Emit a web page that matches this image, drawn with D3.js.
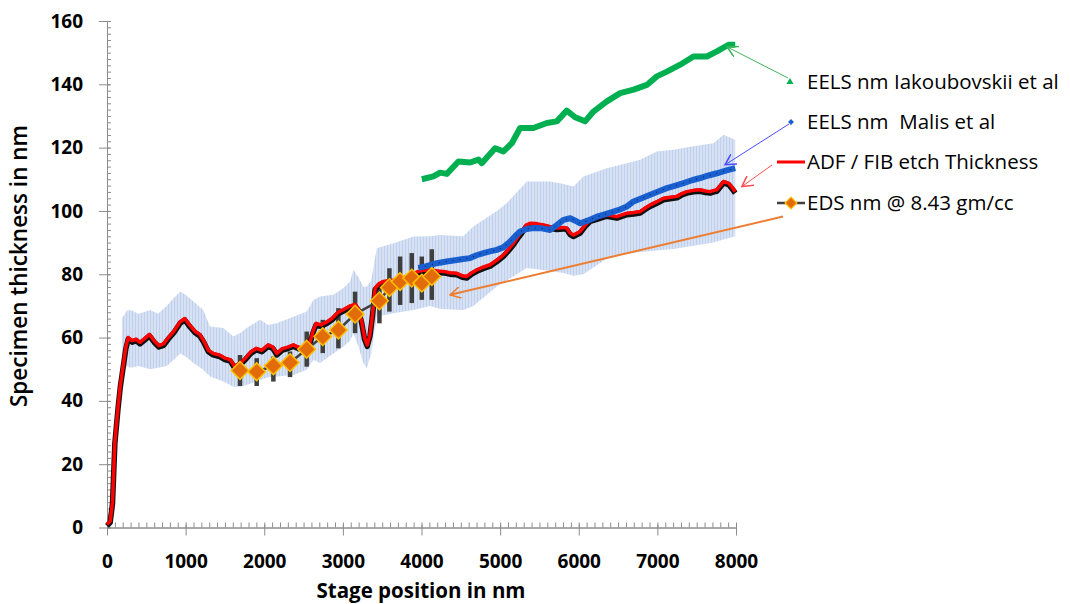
<!DOCTYPE html>
<html>
<head>
<meta charset="utf-8">
<script src="https://cdn.jsdelivr.net/npm/d3@7"></script>
<style>
  body { margin: 0; background: #fff; }
  svg { display: block; }
  .tick text { font-family: "Open Sans", sans-serif; font-weight: 700; font-size: 19px; fill: #000; }
  .legend text { font-family: "Open Sans", sans-serif; font-size: 20.5px; fill: #000; }
</style>
</head>
<body>
<svg width="1070" height="604"></svg>
<script>
// ADF / FIB etch thickness (red, with black raw trace underneath)
var adfX = [0, 40, 70, 100, 140, 170, 205, 240, 270, 320, 370, 420, 470, 540, 600, 660, 720, 780, 850, 930, 990,
  1050, 1120, 1180, 1230, 1290, 1350, 1430, 1500, 1570, 1620, 1700, 1760, 1830, 1900, 1970, 2050, 2110, 2160,
  2230, 2300, 2370, 2430, 2500, 2570, 2620, 2660, 2720, 2800, 2860, 2940, 3020, 3090, 3155, 3200, 3240, 3275,
  3310, 3345, 3375, 3410, 3460, 3512, 3600, 3686, 3780, 3880, 3961, 4040, 4109, 4200, 4279, 4360, 4449, 4520,
  4576, 4640, 4704, 4790, 4873, 4960, 5042, 5110, 5170, 5230, 5276, 5330, 5382, 5460, 5551, 5640, 5721, 5800,
  5848, 5890, 5933, 5980, 6018, 6080, 6145, 6250, 6357, 6485, 6612, 6700, 6781, 6850, 6908, 7000, 7078, 7160,
  7248, 7310, 7375, 7460, 7545, 7610, 7672, 7720, 7757, 7800, 7841, 7905, 7950, 7990];
var adfY = [1, 2, 8, 27, 38, 45, 51, 57, 60, 59, 59.5, 58.5, 59.5, 61, 59, 57.5, 58, 60, 62, 65, 66,
  64, 62, 61, 59, 56, 55, 54.5, 53.5, 53, 51, 52, 53.5, 55.5, 56.6, 56, 57.7, 57, 55,
  56.5, 57, 57.7, 57, 56.6, 57.5, 62, 64.5, 64, 65, 66, 68, 69, 70, 70.5, 69, 65, 60,
  57.7, 61, 67, 75.6, 77, 77.7, 78, 78.2, 79, 80, 80.9, 81.3, 81.4, 81, 80.9, 80.5, 80.3, 79.5,
  79.3, 80.5, 81.4, 82.3, 83, 84.5, 86.1, 88, 89.8, 92, 93.5, 95.5, 96.1, 96, 95.6, 95, 94.6, 94.8,
  94.6, 93, 92.4, 93, 93.5, 95.5, 97.2, 98, 98.8, 98.2, 99.3, 99.5, 99.8, 101, 101.9, 103, 104, 104.3,
  104.6, 105.5, 106.1, 106.5, 106.7, 106.3, 106.1, 106.5, 106.7, 108, 109.3, 108.8, 107.5, 106.1];

// error band of the ADF trace
var bandX  = [190, 250, 300, 400, 550, 650, 760, 850, 930, 1000, 1100, 1225, 1310, 1480, 1607, 1700, 1777, 1947,
  2050, 2159, 2371, 2540, 2625, 2710, 2880, 3000, 3092, 3134, 3200, 3260, 3304, 3360, 3431, 3643, 3897, 4109,
  4237, 4530, 4660, 4958, 5085, 5340, 5636, 5806, 5933, 6060, 6357, 6612, 6781, 6993, 7205, 7459, 7714, 7841, 7990];
var bandLo = [50, 51, 50.5, 51, 50, 50.5, 51, 53, 55, 54, 52, 49.8, 47.7, 46.1, 44.5, 44.5, 45, 46.6,
  47.5, 47.7, 48.2, 49.8, 53, 52, 55, 57, 59, 61.4, 57, 52, 50.3, 55, 66.6, 67.7, 68.7, 70,
  69, 68.7, 70, 76.1, 78, 82, 81, 80.4, 79.5, 80, 85, 86.5, 87, 87.5, 88, 89, 90, 91, 92];
var bandHi = [66, 68.5, 68.7, 67.5, 68.7, 67.5, 70, 72.5, 74.5, 73.5, 71.4, 68.7, 63.5, 63, 60.3, 61.5, 63, 65.6,
  64, 64.5, 66.6, 68.2, 71.9, 73, 73.5, 75.5, 77.7, 81.4, 79, 76, 76.1, 78, 88.2, 89.8, 91.9, 92,
  92.4, 92, 95.1, 100, 102.5, 109.3, 109.3, 108.5, 107.7, 110.9, 113.5, 115.1, 116.2, 118.8, 119.3, 120.4, 121.4, 124.1, 122.5];

// EELS Malis et al (blue)
var malisX = [3960, 4050, 4194, 4320, 4449, 4530, 4618, 4700, 4788, 4870, 4958, 5040, 5127, 5190, 5254, 5340,
  5424, 5530, 5636, 5720, 5806, 5891, 5950, 6018, 6120, 6230, 6340, 6442, 6530, 6612, 6697, 6800, 6908, 7020,
  7121, 7230, 7333, 7440, 7545, 7650, 7757, 7880, 7990];
var malisY = [82, 82.5, 83.5, 84, 84.5, 84.8, 85.1, 86, 86.7, 87.2, 87.7, 88.5, 90.3, 92, 93.5, 94.3,
  94.6, 94.5, 94, 95.5, 97.2, 97.7, 97, 96.1, 97, 98.2, 99, 99.8, 100.5, 101.4, 103, 104, 105.1, 106.2,
  107.2, 108, 108.8, 109.7, 110.4, 111.2, 111.9, 112.8, 113.5];

// EELS Iakoubovskii et al (green)
var iakX = [4004, 4152, 4237, 4322, 4470, 4618, 4725, 4767, 4936, 5042, 5149, 5254, 5424, 5594, 5721, 5848,
  5954, 6081, 6187, 6357, 6527, 6697, 6866, 6993, 7121, 7290, 7459, 7630, 7757, 7905, 7990];
var iakY = [110, 110.9, 112.1, 111.7, 115.6, 115.3, 116.2, 115.1, 119.8, 118.8, 121.4, 126.2, 126.2, 127.8, 128.3, 131.7,
  129.6, 128.3, 131.4, 134.6, 137.2, 138.3, 139.8, 142.5, 144, 146.2, 148.8, 148.8, 150.4, 152.5, 152.5];

// EDS nm @ 8.43 gm/cc with error bars
var edsX  = [1692, 1904, 2116, 2328, 2540, 2744, 2943, 3155, 3465, 3592, 3728, 3876, 4004, 4131];
var edsY  = [49.6, 49.2, 51.1, 52.1, 56.3, 60.3, 62.4, 67.4, 71.6, 75.8, 77.7, 78.8, 77.2, 79.3];
var edsLo = [44.7, 44.7, 46.1, 47.5, 50.8, 55.1, 56.6, 61.4, 64.5, 68.2, 70.3, 70.9, 71.9, 71.9];
var edsHi = [54.5, 53.5, 54, 55.6, 61.9, 65.6, 69.3, 74.5, 77.2, 81.9, 85.6, 86.7, 85.6, 87.9];

var legendLabels = ["EELS nm Iakoubovskii et al", "EELS nm  Malis et al", "ADF / FIB etch Thickness", "EDS nm @ 8.43 gm/cc"];
var xTicks = [0, 1000, 2000, 3000, 4000, 5000, 6000, 7000, 8000];
var yTicks = [0, 20, 40, 60, 80, 100, 120, 140, 160];

var svg = d3.select("svg"),
    x = d3.scaleLinear().domain([0, 8000]).range([107, 736]),
    y = d3.scaleLinear().domain([0, 160]).range([527.5, 21]);

var adf = adfX.map(function(d, i) { return [d, adfY[i]]; }),
    band = bandX.map(function(d, i) { return [d, bandLo[i], bandHi[i]]; }),
    malis = malisX.map(function(d, i) { return [d, malisY[i]]; }),
    iak = iakX.map(function(d, i) { return [d, iakY[i]]; }),
    eds = edsX.map(function(d, i) { return [d, edsY[i], edsLo[i], edsHi[i]]; });

var line = d3.line()
    .x(function(d) { return x(d[0]); })
    .y(function(d) { return y(d[1]); });

var defs = svg.append("defs");
var pat = defs.append("pattern")
    .attr("id", "stripes")
    .attr("patternUnits", "userSpaceOnUse")
    .attr("width", 3).attr("height", 10);
pat.append("rect").attr("width", 3).attr("height", 10).attr("fill", "#d6e1f3");
pat.append("rect").attr("width", 1).attr("height", 10).attr("fill", "#c0d0ec");

function arrowMarker(id, color) {
  defs.append("marker")
      .attr("id", id)
      .attr("viewBox", "0 0 10 10")
      .attr("refX", 9).attr("refY", 5)
      .attr("markerWidth", 12).attr("markerHeight", 12)
      .attr("markerUnits", "userSpaceOnUse")
      .attr("orient", "auto")
    .append("path")
      .attr("d", "M0,0 L9,5 L0,10")
      .attr("fill", "none")
      .attr("stroke", color)
      .attr("stroke-width", 1.3);
}
arrowMarker("arGreen", "#3cb55a");
arrowMarker("arBlue", "#4b4bff");
arrowMarker("arRed", "#ff5050");
arrowMarker("arOrange", "#ed7d31");

// axes
var minorX = d3.range(0, 8001, 100), minorY = d3.range(0, 161, 2);

svg.append("g")
    .attr("class", "axis axis--x-minor")
    .attr("transform", "translate(0," + y(0) + ")")
    .call(d3.axisBottom(x).tickValues(minorX).tickSize(-5).tickSizeOuter(0).tickFormat(""));

svg.append("g")
    .attr("class", "axis axis--x")
    .attr("transform", "translate(0," + y(0) + ")")
    .call(d3.axisBottom(x).tickValues(xTicks).tickSize(8).tickSizeOuter(0).tickPadding(19).tickFormat(d3.format("d")));

svg.append("g")
    .attr("class", "axis axis--y-minor")
    .attr("transform", "translate(" + x(0) + ",0)")
    .call(d3.axisLeft(y).tickValues(minorY).tickSize(-4).tickSizeOuter(0).tickFormat(""));

svg.append("g")
    .attr("class", "axis axis--y")
    .attr("transform", "translate(" + x(0) + ",0)")
    .call(d3.axisLeft(y).tickValues(yTicks).tickSize(8).tickSizeOuter(0).tickPadding(16));

svg.selectAll(".axis--x .tick line").attr("y1", -3);
svg.selectAll(".axis--y .tick line").attr("x1", 3);
svg.selectAll(".axis path.domain").attr("stroke", "#8c8c8c");
svg.selectAll(".axis .tick line").attr("stroke", "#8c8c8c");

// axis titles
svg.append("text")
    .attr("transform", "translate(27," + 266 + ") rotate(-90)")
    .attr("text-anchor", "middle")
    .style("font-family", "'Open Sans', sans-serif")
    .style("font-weight", 600)
    .style("font-size", "22.5px")
    .text("Specimen thickness in nm");

svg.append("text")
    .attr("x", 421)
    .attr("y", 598)
    .attr("text-anchor", "middle")
    .style("font-family", "'Open Sans', sans-serif")
    .style("font-weight", 700)
    .style("font-size", "20.5px")
    .text("Stage position in nm");

// error band
svg.append("path")
    .datum(band)
    .attr("fill", "url(#stripes)")
    .attr("d", d3.area()
        .x(function(d) { return x(d[0]); })
        .y0(function(d) { return y(d[1]); })
        .y1(function(d) { return y(d[2]); }));

// EDS error bars
svg.append("g").selectAll("line")
    .data(eds)
  .enter().append("line")
    .attr("x1", function(d) { return x(d[0]); })
    .attr("x2", function(d) { return x(d[0]); })
    .attr("y1", function(d) { return y(d[2]); })
    .attr("y2", function(d) { return y(d[3]); })
    .attr("stroke", "#3f3f3f")
    .attr("stroke-width", 4.5);

// green series
svg.append("path")
    .datum(iak)
    .attr("fill", "none")
    .attr("stroke", "#00b050")
    .attr("stroke-width", 6)
    .attr("stroke-linejoin", "round")
    .attr("d", line);

// black raw trace under red
svg.append("path")
    .datum(adf)
    .attr("fill", "none")
    .attr("stroke", "#111")
    .attr("stroke-width", 5.5)
    .attr("stroke-linejoin", "round")
    .attr("transform", "translate(0,1.5)")
    .attr("d", line);

svg.append("path")
    .datum(adf)
    .attr("fill", "none")
    .attr("stroke", "#ff0000")
    .attr("stroke-width", 3.5)
    .attr("stroke-linejoin", "round")
    .attr("d", line);

// blue series
svg.append("path")
    .datum(malis)
    .attr("fill", "none")
    .attr("stroke", "#1a5fd0")
    .attr("stroke-width", 6)
    .attr("stroke-linejoin", "round")
    .attr("d", line);
svg.append("path")
    .datum(malis)
    .attr("fill", "none")
    .attr("stroke", "#0b1a40")
    .attr("stroke-width", 1)
    .attr("stroke-dasharray", "1 6")
    .attr("d", line);

// EDS line and diamonds
svg.append("path")
    .datum(eds)
    .attr("fill", "none")
    .attr("stroke", "#404040")
    .attr("stroke-width", 2.5)
    .attr("d", line);

svg.append("g").selectAll("path")
    .data(eds)
  .enter().append("path")
    .attr("transform", function(d) { return "translate(" + x(d[0]) + "," + y(d[1]) + ")"; })
    .attr("d", d3.symbol().type(d3.symbolDiamond2).size(200))
    .attr("fill", "#e36c0a")
    .attr("stroke", "#ffc000")
    .attr("stroke-width", 1.5);

// legend
var legY = [82, 122, 162, 203];
var leg = svg.append("g").attr("class", "legend");
leg.selectAll("text")
    .data(legendLabels)
  .enter().append("text")
    .attr("x", 807)
    .attr("y", function(d, i) { return legY[i]; })
    .attr("dy", "0.35em")
    .style("white-space", "pre")
    .attr("xml:space", "preserve")
    .text(function(d) { return d; });

leg.append("path")
    .attr("transform", "translate(790," + legY[0] + ")")
    .attr("d", d3.symbol().type(d3.symbolTriangle).size(22))
    .attr("fill", "#00b050");
leg.append("path")
    .attr("transform", "translate(791," + legY[1] + ")")
    .attr("d", d3.symbol().type(d3.symbolDiamond2).size(22))
    .attr("fill", "#1a5fd0");
leg.append("line")
    .attr("x1", 777).attr("x2", 805)
    .attr("y1", legY[2]).attr("y2", legY[2])
    .attr("stroke", "#ff0000").attr("stroke-width", 3);
leg.append("line")
    .attr("x1", 777).attr("x2", 805)
    .attr("y1", legY[3]).attr("y2", legY[3])
    .attr("stroke", "#404040").attr("stroke-width", 2.5);
leg.append("path")
    .attr("transform", "translate(791," + legY[3] + ")")
    .attr("d", d3.symbol().type(d3.symbolDiamond2).size(90))
    .attr("fill", "#e36c0a")
    .attr("stroke", "#ffc000")
    .attr("stroke-width", 1.2);

// arrows from legend to series (tip given in data units)
var arrows = [
  {x0: 788, y0: 78, tip: [7888, 151.8], color: "#3cb55a", id: "arGreen", w: 1},
  {x0: 789, y0: 124, tip: [7862, 114.6], color: "#4b4bff", id: "arBlue", w: 1},
  {x0: 772, y0: 165, tip: [8075, 107.7], color: "#ff5050", id: "arRed", w: 1},
  {x0: 783, y0: 216.5, tip: [4364, 73.5], color: "#ed7d31", id: "arOrange", w: 2}
];
svg.append("g").selectAll("line")
    .data(arrows)
  .enter().append("line")
    .attr("x1", function(d) { return d.x0; })
    .attr("y1", function(d) { return d.y0; })
    .attr("x2", function(d) { return x(d.tip[0]); })
    .attr("y2", function(d) { return y(d.tip[1]); })
    .attr("stroke", function(d) { return d.color; })
    .attr("stroke-width", function(d) { return d.w; })
    .attr("marker-end", function(d) { return "url(#" + d.id + ")"; });
</script>
</body>
</html>
